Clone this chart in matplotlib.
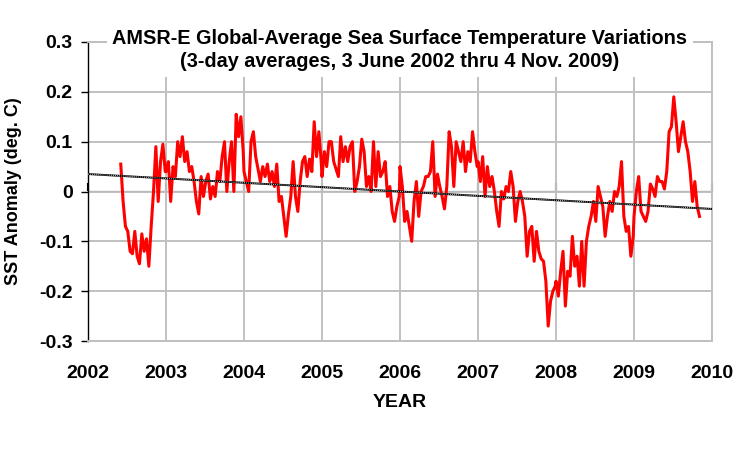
import numpy as np
import matplotlib.pyplot as plt

plt.rcParams['font.family'] = ['Liberation Sans', 'DejaVu Sans']
plt.rcParams['font.weight'] = 'bold'

# SST anomaly (deg C), one value about every 0.03 yr
sst_2002 = [0.055, -0.02, -0.07, -0.08, -0.12, -0.125, -0.08, -0.13, -0.145, -0.085,
            -0.12, -0.095, -0.15, -0.07, 0.0, 0.09, -0.02, 0.06, 0.095, 0.04]
sst_2003 = [0.04, 0.06, -0.02, 0.05, 0.03, 0.10, 0.07, 0.11, 0.06, 0.08, 0.04,
            0.05, 0.02, -0.02, -0.045, 0.03, -0.01, 0.02, 0.035, -0.015, 0.01, -0.01,
            0.04, 0.02, 0.07, 0.10, 0.0, 0.06, 0.10, 0.0, 0.155, 0.11, 0.15, 0.08]
sst_2004 = [0.04, 0.02, 0.0, 0.10, 0.12, 0.07, 0.045, 0.02, 0.05, 0.03, 0.055, 0.02,
            0.04, 0.01, 0.055, -0.02, -0.01, -0.05, -0.09, -0.045, -0.01, 0.06, -0.01,
            -0.04, 0.02, 0.06, 0.07, 0.03, 0.065, 0.04, 0.14, 0.07, 0.12, 0.06]
sst_2005 = [0.03, 0.08, 0.05, 0.10, 0.10, 0.06, 0.045, 0.03, 0.11, 0.06, 0.09, 0.06,
            0.09, 0.10, 0.0, 0.02, 0.05, 0.105, 0.08, 0.01, 0.03, 0.0, 0.10, 0.01,
            0.08, 0.03, 0.04, 0.06, -0.01, 0.01, -0.04, -0.06, -0.03, -0.01]
sst_2006 = [0.05, 0.01, -0.06, -0.04, -0.07, -0.10, -0.02, 0.02, -0.05, 0.0, 0.01, 0.03,
            0.03, 0.04, 0.10, -0.01, 0.035, 0.01, -0.01, -0.035, 0.01, 0.12, 0.09, 0.01,
            0.10, 0.08, 0.06, 0.10, 0.04, 0.08, 0.06, 0.12, 0.08, 0.05]
sst_2007 = [0.06, 0.02, 0.07, -0.01, 0.05, 0.01, 0.03, 0.0, -0.04, -0.07, 0.0,
            -0.015, 0.01, 0.0, 0.04, 0.01, -0.06, -0.02, 0.0, -0.02, -0.05, -0.13, -0.08,
            -0.07, -0.14, -0.08, -0.12, -0.135, -0.14, -0.18, -0.27, -0.22, -0.2, -0.19]
sst_2008 = [-0.18, -0.21, -0.16, -0.12, -0.23, -0.16, -0.17, -0.09, -0.15, -0.13, -0.19,
            -0.10, -0.19, -0.10, -0.07, -0.05, -0.02, -0.06, 0.01, -0.01, -0.03, -0.09,
            -0.05, -0.02, -0.04, 0.0, -0.01, 0.01, 0.06, -0.05, -0.08, -0.07, -0.13, -0.09]
sst_2009 = [-0.05, 0.0, 0.03, -0.04, -0.05, -0.06, -0.04, 0.015, 0.005, -0.01, 0.03,
            0.02, 0.02, 0.005, 0.04, 0.12, 0.13, 0.19, 0.14, 0.08, 0.11, 0.14, 0.10,
            0.08, 0.04, -0.02, 0.02, -0.03, -0.05]

# first sample time of each block (decimal year)
block_starts = [2002.42, 2003, 2004, 2005, 2006, 2007, 2008, 2009]
blocks = [sst_2002, sst_2003, sst_2004, sst_2005, sst_2006, sst_2007, sst_2008, sst_2009]

trend_years = [2002, 2010]
trend_values = [0.035, -0.035]

year_ticks = list(range(2002, 2011))
sst_ticks = [-0.3, -0.2, -0.1, 0, 0.1, 0.2, 0.3]
sst_labels = ['-0.3', '-0.2', '-0.1', '0', '0.1', '0.2', '0.3']

years = np.concatenate([s + 0.03 * np.arange(len(b)) for s, b in zip(block_starts, blocks)])
sst = np.concatenate(blocks)

fig = plt.figure(figsize=(7.48, 4.70), dpi=100)
ax = fig.add_axes([88 / 748, 1 - 341 / 470, 624 / 748, 299 / 470])

grid = '#c0c0c0'
ax.set_xlim(2002, 2010)
ax.set_ylim(-0.3, 0.3)
ax.set_xticks(year_ticks)
ax.set_yticks(sst_ticks)
ax.set_yticklabels(sst_labels)
ax.grid(True, color=grid, lw=1.4)
ax.set_axisbelow(True)
for side in ['top', 'right', 'bottom']:
    ax.spines[side].set_color(grid)
    ax.spines[side].set_linewidth(1.4)
ax.spines['left'].set_color('black')
ax.spines['left'].set_linewidth(1.0)
ax.tick_params(axis='x', length=0, pad=17, labelsize=14)
ax.tick_params(axis='y', length=5, width=1, direction='out', pad=6, labelsize=14)

ax.plot(years, sst, color='red', lw=2.2, zorder=3)
ax.plot(trend_years, trend_values, color='black', lw=1.4, zorder=4)
ax.plot(trend_years, trend_values, color='white', lw=0.6, ls=(0, (1, 1.5)), zorder=4)

# x axis crossing at zero
zero_ax = ax.secondary_xaxis(0.5)
zero_ax.set_xticks(year_ticks)
zero_ax.set_xticklabels([])
zero_ax.tick_params(length=6, width=1.5, direction='out', color='black')
zero_ax.spines['bottom'].set_linewidth(2)
zero_ax.spines['bottom'].set_color('black')

ax.text(0.5, 0.972,
        'AMSR-E Global-Average Sea Surface Temperature Variations\n'
        '(3-day averages, 3 June 2002 thru 4 Nov. 2009)',
        transform=ax.transAxes, ha='center', va='center', fontsize=14.3,
        linespacing=1.25, zorder=10,
        bbox=dict(facecolor='white', edgecolor='none', pad=4))

ax.set_xlabel('YEAR', fontsize=14, fontweight='bold', labelpad=9)
ax.set_ylabel('SST Anomaly (deg. C)', fontsize=13, fontweight='bold', labelpad=12)

fig.savefig('out.png', dpi=100)
